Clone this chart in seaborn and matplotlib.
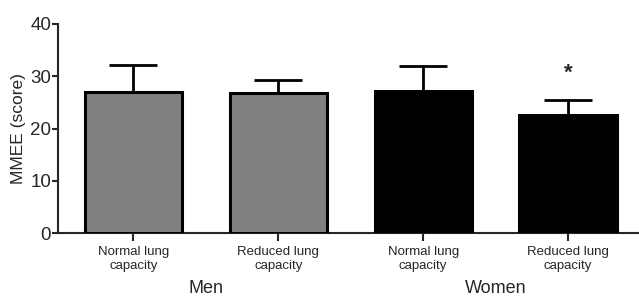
import seaborn as sns
import matplotlib.pyplot as plt
import matplotlib.transforms as mtransforms
import pandas as pd

# values
groups = ['Men', 'Men', 'Women', 'Women']
conditions = ['Normal lung\ncapacity', 'Reduced lung\ncapacity',
              'Normal lung\ncapacity', 'Reduced lung\ncapacity']
means = [26.9, 26.7, 27.2, 22.5]
errors = [5.2, 2.5, 4.8, 3.0]
star_y = 30.5

data = pd.DataFrame({
    'key': [f'{g} {c}' for g, c in zip(groups, conditions)],
    'Sex': groups,
    'MMEE': means,
})

sns.set_style('ticks')
plt.rcParams['font.family'] = ['Liberation Sans', 'DejaVu Sans']

fig = plt.figure(figsize=(6.39, 2.98), dpi=100)
ax = fig.add_axes([0.0908, 0.218, 0.9092, 0.7015])

sns.barplot(data=data, x='key', y='MMEE', hue='Sex', dodge=False,
            palette={'Men': '#808080', 'Women': '#000000'},
            edgecolor='black', linewidth=2.2, width=0.67, errorbar=None,
            legend=False, ax=ax, zorder=3)

ax.errorbar(range(len(means)), means, yerr=[[0] * len(means), errors],
            fmt='none', ecolor='black', elinewidth=2, capsize=17, capthick=2,
            zorder=2)

ax.text(3, star_y, '*', ha='center', va='center', fontsize=16, fontweight='bold')

ax.set_ylim(0, 40)
ax.set_yticks([0, 10, 20, 30, 40])
ax.set_xlim(-0.52, 3.49)
ax.set_xticks(range(len(conditions)))
ax.set_xticklabels(conditions, fontsize=9.5, linespacing=1.3)
ax.set_xlabel('')
ax.set_ylabel('MMEE (score)', fontsize=12.5, labelpad=3)
ax.tick_params(axis='y', labelsize=13.5, length=4, width=1.5, pad=1)
ax.tick_params(axis='x', length=6, width=1.5, pad=3)

sns.despine(ax=ax)
for side in ['left', 'bottom']:
    ax.spines[side].set_linewidth(1.5)

trans = mtransforms.blended_transform_factory(ax.transData, ax.transAxes)
ax.text(0.5, -0.265, 'Men', transform=trans, ha='center', va='center', fontsize=13)
ax.text(2.5, -0.265, 'Women', transform=trans, ha='center', va='center', fontsize=13)

fig.savefig('out.png', dpi=100)
